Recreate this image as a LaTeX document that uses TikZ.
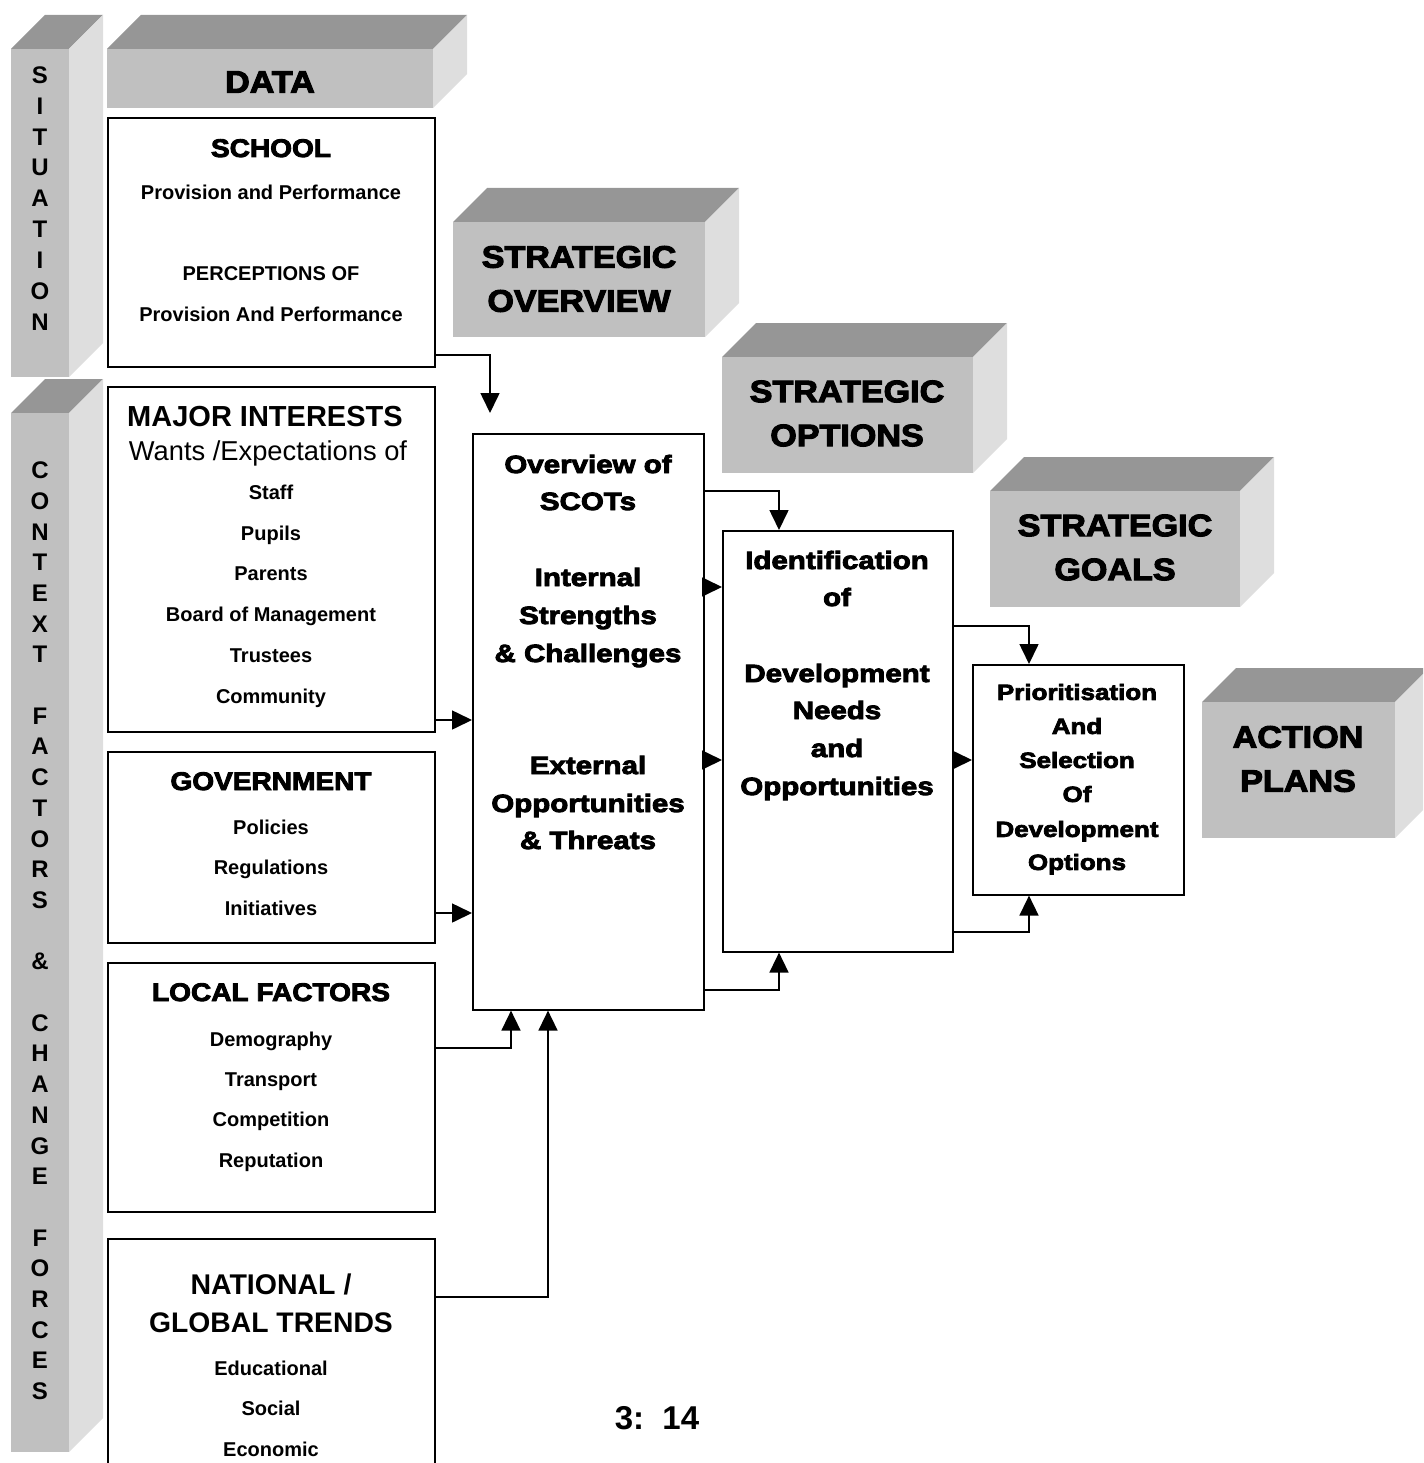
\documentclass[tikz,border=0pt]{standalone}
\usepackage{fontspec}
\setmainfont{Liberation Sans}
\newfontfamily\blackfont{Liberation Sans}[BoldFeatures={FakeBold=3.5,FakeStretch=1.1}]
\newfontfamily\widefont{Liberation Sans}[BoldFeatures={FakeBold=3.5,FakeStretch=1.18}]
\usetikzlibrary{arrows.meta, calc}

\definecolor{frontgray}{HTML}{C0C0C0}
\definecolor{topgray}{HTML}{969696}
\definecolor{sidegray}{HTML}{DEDEDE}

\begin{document}
\begin{tikzpicture}[x=1pt, y=-1pt,
		box/.style={draw, line width=1.6pt, fill=white, anchor=north west, inner sep=0pt},
		flow/.style={line width=1.6pt, -{Triangle[length=20pt, width=19pt]}},
		hdr/.style={font=\blackfont\bfseries\fontsize{31}{44}\selectfont, align=center},
		ttl/.style={anchor=base, font=\blackfont\bfseries\fontsize{25.5}{30}\selectfont},
		item/.style={anchor=base, font=\bfseries\fontsize{20}{24}\selectfont},
		vletter/.style={anchor=base, font=\bfseries\fontsize{24}{28}\selectfont},
		flowtxt/.style={anchor=base, font=\widefont\bfseries\fontsize{25}{28}\selectfont}
	]
			\useasboundingbox (0,0) rectangle (1423,1463);
			\clip (0,0) rectangle (1423,1463);
			
			% grey 3d slabs
			\foreach \n/\xa/\ya/\xb/\yb in {data/107/49/433/108, sitbar/11/49/69/377, ctxbar/11/413/69/1452, ovw/453/222/705/337, opt/722/357/973/473, goal/990/491/1240/607, act/1202/702/1395/838}{
				\fill[topgray] (\xa,\ya) -- (\xa+34,\ya-34) -- (\xb+34,\ya-34) -- (\xb,\ya) -- cycle;
				\fill[sidegray] (\xb,\ya) -- (\xb+34,\ya-34) -- (\xb+34,\yb-34) -- (\xb,\yb) -- cycle;
				\fill[frontgray] (\xa,\ya) rectangle (\xb,\yb);
				\coordinate (\n) at ({(\xa+\xb)/2},{(\ya+\yb)/2});
			};
			
			\node[hdr] (dataT) at (270,82) {DATA};
			\node[hdr] (ovwT) at (579,279) {STRATEGIC\\OVERVIEW};
			\node[hdr] (optT) at (847,413.5) {STRATEGIC\\OPTIONS};
			\node[hdr] (goalT) at (1115,547.5) {STRATEGIC\\GOALS};
			\node[hdr] (actT) at (1298,759) {ACTION\\PLANS};
			
			\foreach \c [count=\k] in {S,I,T,U,A,T,I,O,N}{
				\node[vletter] (sit\k) at (40,{83.6+(\k-1)*30.8}) {\c};
			};
			\foreach \c [count=\k] in {C,O,N,T,E,X,T,{},F,A,C,T,O,R,S,{},\&,{},C,H,A,N,G,E,{},F,O,R,C,E,S}{
				\node[vletter] (ctx\k) at (40,{478.6+(\k-1)*30.7}) {\c};
			};
			
			% white boxes
			\node[box, minimum width=327pt, minimum height=249pt] (school) at (107,117) {};
			\node[box, minimum width=327pt, minimum height=345pt] (major) at (107,386) {};
			\node[box, minimum width=327pt, minimum height=191pt] (gov) at (107,751) {};
			\node[box, minimum width=327pt, minimum height=249pt] (local) at (107,962) {};
			\node[box, minimum width=327pt, minimum height=270pt] (national) at (107,1238) {};
			\node[box, minimum width=231pt, minimum height=576pt] (scots) at (472,433) {};
			\node[box, minimum width=230pt, minimum height=421pt] (ident) at (722,530) {};
			\node[box, minimum width=211pt, minimum height=230pt] (prior) at (972,664) {};
			
			\node[ttl] (schoolT) at (271,157) {SCHOOL};
			\foreach \y/\t in {193/Provision and Performance, 273/PERCEPTIONS OF, 314/Provision And Performance}{
				\node[item] (school\y) at (271,\y+7) {\t};
			};
			
			\node[anchor=base, font=\bfseries\fontsize{29}{30}\selectfont] (majorT) at (265,426) {MAJOR INTERESTS};
			\node[anchor=base, font=\fontsize{27.3}{30}\selectfont] (wantsT) at (268,460) {Wants /Expectations of};
			\foreach \y/\t in {492/Staff, 533/Pupils, 573/Parents, 614/Board of Management, 655/Trustees, 696/Community}{
				\node[item] (major\y) at (271,\y+7) {\t};
			};
			
			\node[ttl] (govT) at (271,790) {GOVERNMENT};
			\foreach \y/\t in {827/Policies, 867/Regulations, 908/Initiatives}{
				\node[item] (gov\y) at (271,\y+7) {\t};
			};
			
			\node[ttl] (localT) at (271,1001) {LOCAL FACTORS};
			\foreach \y/\t in {1039/Demography, 1079/Transport, 1119/Competition, 1160/Reputation}{
				\node[item] (local\y) at (271,\y+7) {\t};
			};
			
			\node[anchor=base, font=\bfseries\fontsize{28.5}{30}\selectfont] (natT) at (271,1294) {NATIONAL /};
			\node[anchor=base, font=\bfseries\fontsize{28.3}{30}\selectfont] (globT) at (271,1332) {GLOBAL TRENDS};
			\foreach \y/\t in {1368/Educational, 1408/Social, 1449/Economic}{
				\node[item] (nat\y) at (271,\y+7) {\t};
			};
			
			\foreach \y/\t in {464/Overview of, 501/SCOTs, 577/Internal, 615/Strengths, 653/\& Challenges, 765/External, 803/Opportunities, 840/\& Threats}{
				\node[flowtxt] (scots\y) at (588,\y+9) {\t};
			};
			\foreach \y/\t in {560/Identification, 597/of, 673/Development, 710/Needs, 748/and, 786/Opportunities}{
				\node[flowtxt] (ident\y) at (837,\y+9) {\t};
			};
			\foreach \y/\t in {692/Prioritisation, 726/And, 760/Selection, 794/Of, 829/Development, 862/Options}{
				\node[flowtxt, font=\widefont\bfseries\fontsize{22}{26}\selectfont] (prior\y) at (1077,\y+7.9) {\t};
			};
			
			% connectors
			\coordinate (ovtip) at (490,413);
			\draw[flow] (school.east |- 0,355) -| (ovtip);
			\draw[flow] (major.east |- 0,720) -- (scots.west |- 0,720);
			\draw[flow] (gov.east |- 0,913) -- (scots.west |- 0,913);
			\draw[flow] (local.east |- 0,1048) -| (scots.south -| 511,0);
			\draw[flow] (national.east |- 0,1297) -| (scots.south -| 548,0);
			
			\draw[flow] (scots.east |- 0,491) -| (ident.north -| 779,0);
			\draw[flow] (scots.east |- 0,587) -- (ident.west |- 0,587);
			\draw[flow] (scots.east |- 0,760) -- (ident.west |- 0,760);
			\draw[flow] (scots.east |- 0,990) -| (ident.south -| 779,0);
			
			\draw[flow] (ident.east |- 0,626) -| (prior.north -| 1029,0);
			\draw[flow] (ident.east |- 0,760) -- (prior.west |- 0,760);
			\draw[flow] (ident.east |- 0,932) -| (prior.south -| 1029,0);
			
			\node[anchor=base, font=\bfseries\fontsize{33}{36}\selectfont] (pageno) at (657,1429) {3:~~14};
			
\end{tikzpicture}
\end{document}
